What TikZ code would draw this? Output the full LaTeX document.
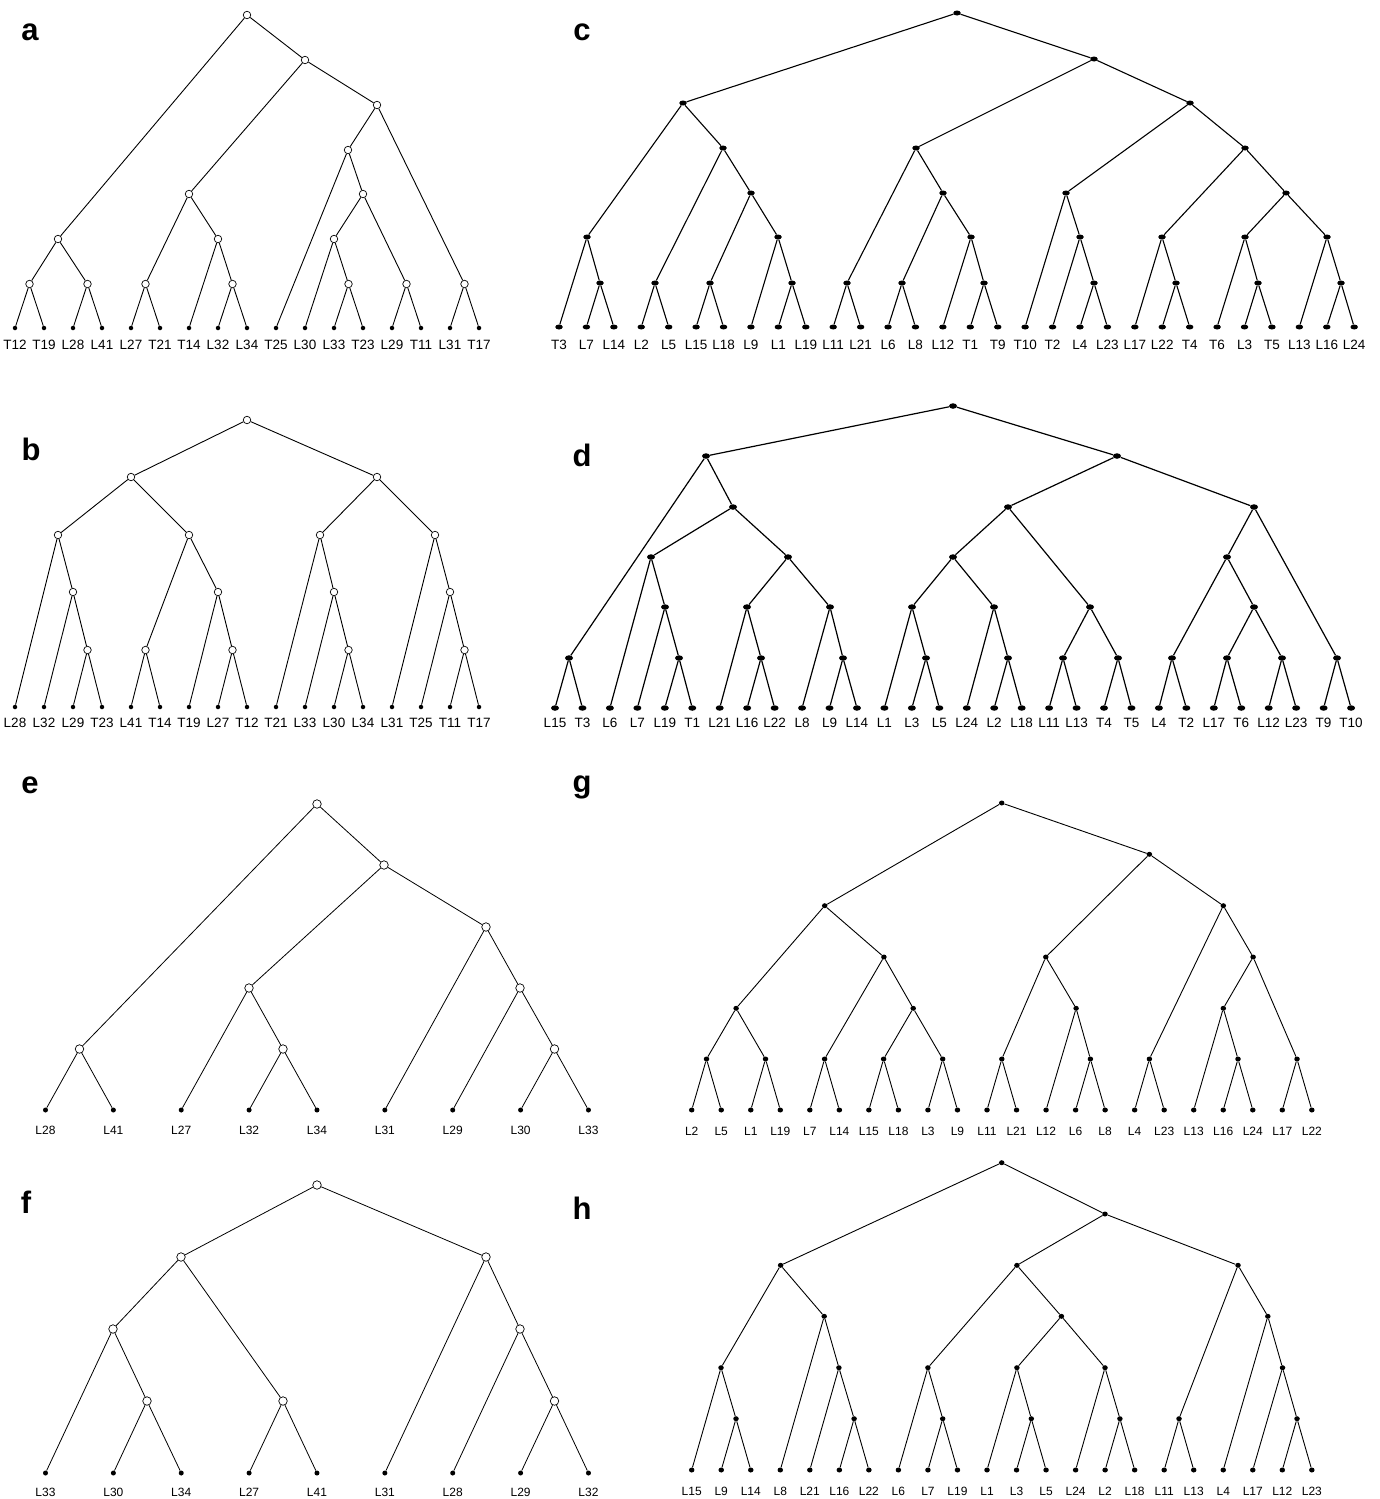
\documentclass[tikz,border=0pt]{standalone}
\usepackage{fontspec}
\setmainfont{Liberation Sans}
\usepackage{tikz}
\usetikzlibrary{shapes.geometric}

\begin{document}
\begin{tikzpicture}[
    x=1pt, y=-1pt,
    ocirc/.style={circle, draw, fill=white, line width=0.7pt, inner sep=0pt, minimum size=7.5pt},
    ocircbig/.style={ocirc, minimum size=8.5pt},
    tipdot/.style={circle, fill=black, inner sep=0pt, minimum size=4.5pt},
    tipdotbig/.style={tipdot, minimum size=5pt},
    blob/.style={ellipse, fill=black, inner sep=0pt, minimum width=7.5pt, minimum height=5pt},
    blobbig/.style={blob, minimum width=8pt, minimum height=5.5pt},
    smalldot/.style={ellipse, fill=black, inner sep=0pt, minimum width=5.5pt, minimum height=5pt},
    taxon/.style={inner sep=0pt, font=\fontsize{13.5}{14}\selectfont},
    taxonsm/.style={inner sep=0pt, font=\fontsize{12}{13}\selectfont},
    panel/.style={inner sep=0pt, font=\bfseries\fontsize{31}{31}\selectfont},
    br/.style={line width=0.9pt},
    brc/.style={line width=1.1pt},
    brd/.style={line width=1.2pt},
    brthin/.style={line width=0.8pt}
  ]
    \useasboundingbox (0,0) rectangle (1379,1499);

    % panel letters
    \node[panel] (pa) at (30,32) {a};
    \node[panel] (pb) at (31,449) {b};
    \node[panel] (pc) at (582,32) {c};
    \node[panel] (pd) at (582,455) {d};
    \node[panel] (pe) at (30,785) {e};
    \node[panel] (pg) at (582,787) {g};
    \node[panel] (pf) at (26,1202) {f};
    \node[panel] (ph) at (582,1208) {h};

    % ---------------- tree a ----------------
    \foreach \t [count=\i] in {T12,T19,L28,L41,L27,T21,T14,L32,L34,T25,L30,L33,T23,L29,T11,L31,T17} {
      \node[tipdot] (al\i) at ({15+29*(\i-1)},328) {};
      \node[taxon] (at\i) at ({15+29*(\i-1)},345) {\t};
    }
    \node[ocirc] (an0) at (247,15) {};
    \node[ocirc] (an1) at (305,60) {};
    \node[ocirc] (an2) at (377,105) {};
    \node[ocirc] (an3) at (348,150) {};
    \node[ocirc] (an4) at (363,194) {};
    \node[ocirc] (an5) at (334,239) {};
    \node[ocirc] (an6) at (189,194) {};
    \node[ocirc] (an7) at (58,239) {};
    \node[ocirc] (an8) at (218,239) {};
    \node[ocirc] (an9) at (29.5,284) {};
    \node[ocirc] (an10) at (87.5,284) {};
    \node[ocirc] (an11) at (145.5,284) {};
    \node[ocirc] (an12) at (232.5,284) {};
    \node[ocirc] (an13) at (348.5,284) {};
    \node[ocirc] (an14) at (406.5,284) {};
    \node[ocirc] (an15) at (464.5,284) {};
    \foreach \p/\c in {an0/an7, an0/an1, an7/an9, an7/an10, an9/al1, an9/al2, an10/al3, an10/al4,
        an1/an6, an1/an2, an6/an11, an6/an8, an11/al5, an11/al6, an8/al7, an8/an12, an12/al8, an12/al9,
        an2/an3, an2/an15, an3/al10, an3/an4, an4/an5, an4/an14, an5/al11, an5/an13,
        an13/al12, an13/al13, an14/al14, an14/al15, an15/al16, an15/al17}
      \draw[br] (\p) -- (\c);

    % ---------------- tree b ----------------
    \foreach \t [count=\i] in {L28,L32,L29,T23,L41,T14,T19,L27,T12,T21,L33,L30,L34,L31,T25,T11,T17} {
      \node[tipdot] (bl\i) at ({15+29*(\i-1)},707) {};
      \node[taxon] (bt\i) at ({15+29*(\i-1)},723) {\t};
    }
    \node[ocirc] (bn0) at (247,420) {};
    \node[ocirc] (bn1) at (131,477) {};
    \node[ocirc] (bn2) at (377,477) {};
    \node[ocirc] (bn3) at (58,535) {};
    \node[ocirc] (bn4) at (189,535) {};
    \node[ocirc] (bn5) at (320,535) {};
    \node[ocirc] (bn6) at (435,535) {};
    \node[ocirc] (bn7) at (73,592) {};
    \node[ocirc] (bn8) at (218,592) {};
    \node[ocirc] (bn9) at (334,592) {};
    \node[ocirc] (bn10) at (450,592) {};
    \node[ocirc] (bn11) at (87.5,650) {};
    \node[ocirc] (bn12) at (145.5,650) {};
    \node[ocirc] (bn13) at (232.5,650) {};
    \node[ocirc] (bn14) at (348.5,650) {};
    \node[ocirc] (bn15) at (464.5,650) {};
    \foreach \p/\c in {bn0/bn1, bn0/bn2, bn1/bn3, bn1/bn4, bn3/bl1, bn3/bn7, bn7/bl2, bn7/bn11,
        bn11/bl3, bn11/bl4, bn4/bn12, bn4/bn8, bn12/bl5, bn12/bl6, bn8/bl7, bn8/bn13, bn13/bl8, bn13/bl9,
        bn2/bn5, bn2/bn6, bn5/bl10, bn5/bn9, bn9/bl11, bn9/bn14, bn14/bl12, bn14/bl13,
        bn6/bl14, bn6/bn10, bn10/bl15, bn10/bn15, bn15/bl16, bn15/bl17}
      \draw[br] (\p) -- (\c);

    % ---------------- tree c ----------------
    \foreach \t [count=\i] in {T3,L7,L14,L2,L5,L15,L18,L9,L1,L19,L11,L21,L6,L8,L12,
        T1,T9,T10,T2,L4,L23,L17,L22,T4,T6,L3,T5,L13,L16,L24} {
      \node[blob] (cl\i) at ({559+27.42*(\i-1)},327) {};
      \node[taxon] (ct\i) at ({559+27.42*(\i-1)},345) {\t};
    }
    \node[blob] (cn0) at (957,13) {};
    \node[blob] (cn1) at (683,103) {};
    \node[blob] (cn2) at (1094,59) {};
    \node[blob] (cn3) at (587,237) {};
    \node[blob] (cn4) at (723,148) {};
    \node[blob] (cn5) at (751,193) {};
    \node[blob] (cn6) at (778,237) {};
    \node[blob] (cn7) at (916,148) {};
    \node[blob] (cn8) at (1190,103) {};
    \node[blob] (cn9) at (943,193) {};
    \node[blob] (cn10) at (971,237) {};
    \node[blob] (cn11) at (1066,193) {};
    \node[blob] (cn12) at (1245,148) {};
    \node[blob] (cn13) at (1080,237) {};
    \node[blob] (cn14) at (1162,237) {};
    \node[blob] (cn15) at (1286,193) {};
    \node[blob] (cn16) at (1245,237) {};
    \node[blob] (cn17) at (1327,237) {};
    \node[blob] (cn18) at (600,283) {};
    \node[blob] (cn19) at (655,283) {};
    \node[blob] (cn20) at (710,283) {};
    \node[blob] (cn21) at (792,283) {};
    \node[blob] (cn22) at (847,283) {};
    \node[blob] (cn23) at (902,283) {};
    \node[blob] (cn24) at (984,283) {};
    \node[blob] (cn25) at (1094,283) {};
    \node[blob] (cn26) at (1176,283) {};
    \node[blob] (cn27) at (1258,283) {};
    \node[blob] (cn28) at (1341,283) {};
    \foreach \p/\c in {cn0/cn1, cn0/cn2, cn1/cn3, cn1/cn4,
        cn3/cl1, cn3/cn18, cn18/cl2, cn18/cl3, cn4/cn19, cn4/cn5, cn19/cl4, cn19/cl5,
        cn5/cn20, cn5/cn6, cn20/cl6, cn20/cl7, cn6/cl8, cn6/cn21, cn21/cl9, cn21/cl10,
        cn2/cn7, cn2/cn8, cn7/cn22, cn7/cn9, cn22/cl11, cn22/cl12,
        cn9/cn23, cn9/cn10, cn23/cl13, cn23/cl14, cn10/cl15, cn10/cn24, cn24/cl16, cn24/cl17,
        cn8/cn11, cn8/cn12, cn11/cl18, cn11/cn13, cn13/cl19, cn13/cn25, cn25/cl20, cn25/cl21,
        cn12/cn14, cn12/cn15, cn14/cl22, cn14/cn26, cn26/cl23, cn26/cl24,
        cn15/cn16, cn15/cn17, cn16/cl25, cn16/cn27, cn27/cl26, cn27/cl27,
        cn17/cl28, cn17/cn28, cn28/cl29, cn28/cl30}
      \draw[brc] (\p) -- (\c);

    % ---------------- tree d ----------------
    \foreach \t [count=\i] in {L15,T3,L6,L7,L19,T1,L21,L16,L22,L8,L9,L14,L1,L3,L5,
        L24,L2,L18,L11,L13,T4,T5,L4,T2,L17,T6,L12,L23,T9,T10} {
      \node[blobbig] (dl\i) at ({555+27.45*(\i-1)},708) {};
      \node[taxon] (dt\i) at ({555+27.45*(\i-1)},723) {\t};
    }
    \node[blobbig] (dn0) at (953,406) {};
    \node[blobbig] (dn1) at (706,456) {};
    \node[blobbig] (dn2) at (1117,456) {};
    \node[blobbig] (dn3) at (733,507) {};
    \node[blobbig] (dn4) at (651,557) {};
    \node[blobbig] (dn5) at (788,557) {};
    \node[blobbig] (dn6) at (665,607) {};
    \node[blobbig] (dn7) at (747,607) {};
    \node[blobbig] (dn8) at (830,607) {};
    \node[blobbig] (dn9) at (1008,507) {};
    \node[blobbig] (dn10) at (1254,507) {};
    \node[blobbig] (dn11) at (953,557) {};
    \node[blobbig] (dn12) at (1090,607) {};
    \node[blobbig] (dn13) at (912,607) {};
    \node[blobbig] (dn14) at (994,607) {};
    \node[blobbig] (dn15) at (1227,557) {};
    \node[blobbig] (dn16) at (1254,607) {};
    \node[blobbig] (dn17) at (569,658) {};
    \node[blobbig] (dn18) at (679,658) {};
    \node[blobbig] (dn19) at (761,658) {};
    \node[blobbig] (dn20) at (843,658) {};
    \node[blobbig] (dn21) at (926,658) {};
    \node[blobbig] (dn22) at (1008,658) {};
    \node[blobbig] (dn23) at (1063,658) {};
    \node[blobbig] (dn24) at (1118,658) {};
    \node[blobbig] (dn25) at (1172,658) {};
    \node[blobbig] (dn26) at (1227,658) {};
    \node[blobbig] (dn27) at (1282,658) {};
    \node[blobbig] (dn28) at (1337,658) {};
    \foreach \p/\c in {dn0/dn1, dn0/dn2, dn1/dn17, dn1/dn3, dn17/dl1, dn17/dl2,
        dn3/dn4, dn3/dn5, dn4/dl3, dn4/dn6, dn6/dl4, dn6/dn18, dn18/dl5, dn18/dl6,
        dn5/dn7, dn5/dn8, dn7/dl7, dn7/dn19, dn19/dl8, dn19/dl9,
        dn8/dl10, dn8/dn20, dn20/dl11, dn20/dl12,
        dn2/dn9, dn2/dn10, dn9/dn11, dn9/dn12, dn11/dn13, dn11/dn14,
        dn13/dl13, dn13/dn21, dn21/dl14, dn21/dl15, dn14/dl16, dn14/dn22, dn22/dl17, dn22/dl18,
        dn12/dn23, dn12/dn24, dn23/dl19, dn23/dl20, dn24/dl21, dn24/dl22,
        dn10/dn15, dn10/dn28, dn28/dl29, dn28/dl30, dn15/dn25, dn15/dn16, dn25/dl23, dn25/dl24,
        dn16/dn26, dn16/dn27, dn26/dl25, dn26/dl26, dn27/dl27, dn27/dl28}
      \draw[brd] (\p) -- (\c);

    % ---------------- tree e ----------------
    \foreach \t [count=\i] in {L28,L41,L27,L32,L34,L31,L29,L30,L33} {
      \node[tipdotbig] (el\i) at ({45.5+67.87*(\i-1)},1110) {};
      \node[taxonsm] (et\i) at ({45.5+67.87*(\i-1)},1130) {\t};
    }
    \node[ocircbig] (en0) at (317,804) {};
    \node[ocircbig] (en1) at (384,865) {};
    \node[ocircbig] (en2) at (486,927) {};
    \node[ocircbig] (en3) at (249,988) {};
    \node[ocircbig] (en4) at (520,988) {};
    \node[ocircbig] (en5) at (79.5,1049) {};
    \node[ocircbig] (en6) at (283,1049) {};
    \node[ocircbig] (en7) at (554.5,1049) {};
    \foreach \p/\c in {en0/en5, en0/en1, en5/el1, en5/el2, en1/en3, en1/en2, en3/el3, en3/en6,
        en6/el4, en6/el5, en2/el6, en2/en4, en4/el7, en4/en7, en7/el8, en7/el9}
      \draw[brthin] (\p) -- (\c);

    % ---------------- tree f ----------------
    \foreach \t [count=\i] in {L33,L30,L34,L27,L41,L31,L28,L29,L32} {
      \node[tipdotbig] (fl\i) at ({45.5+67.87*(\i-1)},1473) {};
      \node[taxonsm] (ft\i) at ({45.5+67.87*(\i-1)},1492) {\t};
    }
    \node[ocircbig] (fn0) at (317,1185) {};
    \node[ocircbig] (fn1) at (181,1257) {};
    \node[ocircbig] (fn2) at (486,1257) {};
    \node[ocircbig] (fn3) at (113,1329) {};
    \node[ocircbig] (fn4) at (520,1329) {};
    \node[ocircbig] (fn5) at (147,1401) {};
    \node[ocircbig] (fn6) at (283,1401) {};
    \node[ocircbig] (fn7) at (554.5,1401) {};
    \foreach \p/\c in {fn0/fn1, fn0/fn2, fn1/fn3, fn1/fn6, fn3/fl1, fn3/fn5, fn5/fl2, fn5/fl3,
        fn6/fl4, fn6/fl5, fn2/fl6, fn2/fn4, fn4/fl7, fn4/fn7, fn7/fl8, fn7/fl9}
      \draw[brthin] (\p) -- (\c);

    % ---------------- tree g ----------------
    \foreach \t [count=\i] in {L2,L5,L1,L19,L7,L14,L15,L18,L3,L9,L11,L21,L12,L6,L8,
        L4,L23,L13,L16,L24,L17,L22} {
      \node[smalldot] (gl\i) at ({691.7+29.53*(\i-1)},1110) {};
      \node[taxonsm] (gt\i) at ({691.7+29.53*(\i-1)},1131) {\t};
    }
    \node[smalldot] (gn0) at (1001.7,803) {};
    \node[smalldot] (gn1) at (824.7,905.7) {};
    \node[smalldot] (gn2) at (1149.4,854.3) {};
    \node[smalldot] (gn3) at (736.1,1008.3) {};
    \node[smalldot] (gn4) at (883.9,957) {};
    \node[smalldot] (gn5) at (913.2,1008.3) {};
    \node[smalldot] (gn6) at (1045.8,957) {};
    \node[smalldot] (gn7) at (1223.3,905.7) {};
    \node[smalldot] (gn8) at (1076.1,1008.3) {};
    \node[smalldot] (gn9) at (1253.1,957) {};
    \node[smalldot] (gn10) at (1223.3,1008.3) {};
    \node[smalldot] (gn11) at (706.5,1059) {};
    \node[smalldot] (gn12) at (765.5,1059) {};
    \node[smalldot] (gn13) at (824.6,1059) {};
    \node[smalldot] (gn14) at (883.6,1059) {};
    \node[smalldot] (gn15) at (942.7,1059) {};
    \node[smalldot] (gn16) at (1001.8,1059) {};
    \node[smalldot] (gn17) at (1090.4,1059) {};
    \node[smalldot] (gn18) at (1149.4,1059) {};
    \node[smalldot] (gn19) at (1238,1059) {};
    \node[smalldot] (gn20) at (1297,1059) {};
    \foreach \p/\c in {gn0/gn1, gn0/gn2, gn1/gn3, gn1/gn4,
        gn3/gn11, gn3/gn12, gn11/gl1, gn11/gl2, gn12/gl3, gn12/gl4,
        gn4/gn13, gn4/gn5, gn13/gl5, gn13/gl6, gn5/gn14, gn5/gn15, gn14/gl7, gn14/gl8, gn15/gl9, gn15/gl10,
        gn2/gn6, gn2/gn7, gn6/gn16, gn6/gn8, gn16/gl11, gn16/gl12, gn8/gl13, gn8/gn17, gn17/gl14, gn17/gl15,
        gn7/gn18, gn7/gn9, gn18/gl16, gn18/gl17, gn9/gn10, gn9/gn20, gn20/gl21, gn20/gl22,
        gn10/gl18, gn10/gn19, gn19/gl19, gn19/gl20}
      \draw[br] (\p) -- (\c);

    % ---------------- tree h ----------------
    \foreach \t [count=\i] in {L15,L9,L14,L8,L21,L16,L22,L6,L7,L19,L1,L3,L5,L24,L2,L18,
        L11,L13,L4,L17,L12,L23} {
      \node[smalldot] (hl\i) at ({691.7+29.53*(\i-1)},1470) {};
      \node[taxonsm] (ht\i) at ({691.7+29.53*(\i-1)},1491) {\t};
    }
    \node[smalldot] (hn0) at (1001.7,1162.7) {};
    \node[smalldot] (hn1) at (780.6,1265.3) {};
    \node[smalldot] (hn2) at (1105,1214) {};
    \node[smalldot] (hn3) at (721,1367.7) {};
    \node[smalldot] (hn4) at (824.2,1316.3) {};
    \node[smalldot] (hn5) at (838.9,1367.7) {};
    \node[smalldot] (hn6) at (1016.9,1265.3) {};
    \node[smalldot] (hn7) at (1238,1265.3) {};
    \node[smalldot] (hn8) at (927.9,1367.7) {};
    \node[smalldot] (hn9) at (1061.4,1316.3) {};
    \node[smalldot] (hn10) at (1016.9,1367.7) {};
    \node[smalldot] (hn11) at (1105,1367.7) {};
    \node[smalldot] (hn12) at (1267.8,1316.3) {};
    \node[smalldot] (hn13) at (1282.5,1367.7) {};
    \node[smalldot] (hn14) at (736,1418.7) {};
    \node[smalldot] (hn15) at (854.1,1418.7) {};
    \node[smalldot] (hn16) at (942.7,1418.7) {};
    \node[smalldot] (hn17) at (1031.3,1418.7) {};
    \node[smalldot] (hn18) at (1119.9,1418.7) {};
    \node[smalldot] (hn19) at (1179,1418.7) {};
    \node[smalldot] (hn20) at (1297,1418.7) {};
    \foreach \p/\c in {hn0/hn1, hn0/hn2, hn1/hn3, hn1/hn4,
        hn3/hl1, hn3/hn14, hn14/hl2, hn14/hl3, hn4/hl4, hn4/hn5, hn5/hl5, hn5/hn15, hn15/hl6, hn15/hl7,
        hn2/hn6, hn2/hn7, hn6/hn8, hn6/hn9, hn8/hl8, hn8/hn16, hn16/hl9, hn16/hl10,
        hn9/hn10, hn9/hn11, hn10/hl11, hn10/hn17, hn17/hl12, hn17/hl13,
        hn11/hl14, hn11/hn18, hn18/hl15, hn18/hl16,
        hn7/hn19, hn7/hn12, hn19/hl17, hn19/hl18, hn12/hl19, hn12/hn13,
        hn13/hl20, hn13/hn20, hn20/hl21, hn20/hl22}
      \draw[br] (\p) -- (\c);
\end{tikzpicture}
\end{document}
